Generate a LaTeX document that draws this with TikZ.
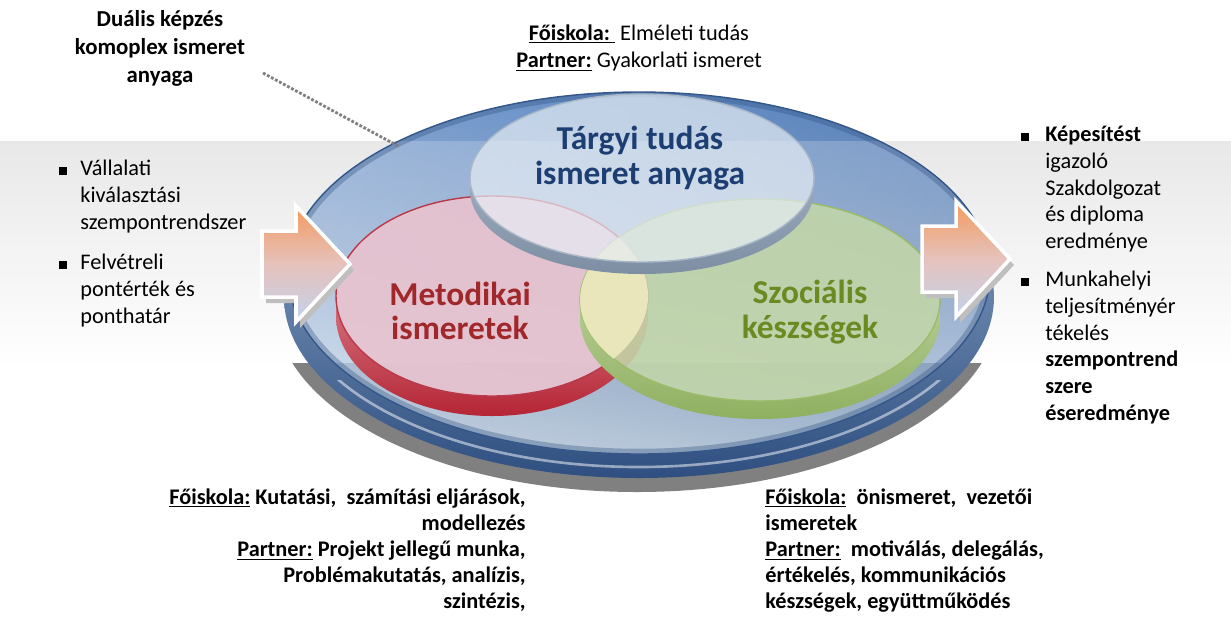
\documentclass[tikz,border=0pt]{standalone}
\usepackage{fontspec}
\setmainfont{Carlito}
\usetikzlibrary{positioning}

% colours of the plate
\definecolor{platetop}{HTML}{5A88C6}
\definecolor{platemid}{HTML}{8AA6CC}
\definecolor{platelow}{HTML}{D2E4F5}
\definecolor{plateside}{HTML}{2E4F80}
\definecolor{platesidetop}{HTML}{9DB5D3}
\definecolor{plateedge}{HTML}{34578A}
% colours of the three cushions
\definecolor{topface}{HTML}{E6EDF4}
\definecolor{topedge}{HTML}{A9B8C8}
\definecolor{topsideA}{HTML}{B9C5D2}
\definecolor{topsideB}{HTML}{7D8EA3}
\definecolor{redface}{HTML}{E9C3CF}
\definecolor{rededge}{HTML}{B8394A}
\definecolor{redsideA}{HTML}{F0B8C0}
\definecolor{redsideB}{HTML}{B52535}
\definecolor{greenface}{HTML}{C2D6A8}
\definecolor{greenedge}{HTML}{9BBB6A}
\definecolor{greensideA}{HTML}{D4E4BE}
\definecolor{greensideB}{HTML}{8FB060}
\definecolor{overlap}{HTML}{EFE9BE}
% text and arrows
\definecolor{navytext}{HTML}{1D3E73}
\definecolor{redtext}{HTML}{A0282B}
\definecolor{greentext}{HTML}{6A8A22}
\definecolor{arrowtop}{HTML}{F39A5E}
\definecolor{arrowmid}{HTML}{E6C2BC}
\definecolor{arrowlow}{HTML}{C2D2EC}

% cushion: centre x, centre y, x radius, y radius, depth, side style, face style
\newcommand{\cushion}[7]{%
  \begin{scope}
    \clip (0,#2) rectangle (1231,630);
    \path[#6, even odd rule] (#1,#2+#5) ellipse [x radius=#3, y radius=#4]
      (#1,#2) ellipse [x radius=#3, y radius=#4];
  \end{scope}
  \path[#7] (#1,#2) ellipse [x radius=#3, y radius=#4];
}

\begin{document}
\begin{tikzpicture}[x=0.02cm, y=-0.02cm,
    every node/.style={inner sep=0pt},
    plain/.style={font=\fontsize{12.7}{15.2}\selectfont},
    heavy/.style={font=\fontsize{12.7}{14.9}\selectfont\bfseries},
    title/.style={font=\fontsize{19}{19.8}\selectfont\bfseries, align=center},
    sqbullet/.style={fill=black, minimum size=4pt},
    arrowpath/.style={insert path={(0,-33) -- (34,-33) -- (34,-58) -- (88,0)
      -- (34,58) -- (34,33) -- (0,33) -- cycle}},
    arrowfill/.style={top color=arrowtop, bottom color=arrowlow,
      middle color=arrowmid, draw=white, line width=2pt}]

  % Page and grey band
  \useasboundingbox (0,0) rectangle (1231,630);
  \fill[white] (0,0) rectangle (1231,630);
  \shade[top color=black!9, bottom color=white] (0,141) rectangle (1231,368);

  % Shadow under the plate
  \begin{scope}
    \clip (0,363) rectangle (1231,630);
    \fill[black!50] (637,306) ellipse [x radius=362, y radius=186];
  \end{scope}

  % The plate: side, face, band and rim
  \shade[top color=platesidetop, bottom color=plateside]
    (639,297) ellipse [x radius=355, y radius=181];
  \shade[top color=platetop, bottom color=platelow, middle color=platemid]
    (639,273) ellipse [x radius=351, y radius=181];
  \begin{scope}
    \clip (639,273) ellipse [x radius=351, y radius=181];
    \shade[left color=white, right color=plateside, opacity=.2] (280,80) rectangle (1000,470);
    \fill[white, opacity=.2] (0,141) rectangle (1231,363);
    \fill[black, opacity=.07] (0,363) rectangle (1231,630);
    \draw[plateside, line width=6pt, opacity=.35]
      (639,273) ellipse [x radius=351, y radius=181];
  \end{scope}
  \draw[plateedge, line width=.8pt] (639,273) ellipse [x radius=351, y radius=181];
  \begin{scope}
    \clip (0,380) rectangle (1231,630);
    \draw[white, opacity=.5, line width=1.5pt] (639,288) ellipse [x radius=350, y radius=179];
  \end{scope}

  % Red and green cushions
  \cushion{492}{296}{156}{100}{20}{top color=redsideA, bottom color=redsideB}
    {fill=redface, fill opacity=.9, draw=rededge, line width=.8pt}
  \cushion{760}{300}{180}{101}{18}{top color=greensideA, bottom color=greensideB}
    {fill=greenface, fill opacity=.88, draw=greenedge, line width=.8pt}
  \begin{scope}
    \clip (492,296) ellipse [x radius=156, y radius=100];
    \fill[overlap, opacity=.9] (760,300) ellipse [x radius=180, y radius=101];
  \end{scope}

  % Top cushion
  \cushion{642}{178}{172}{84}{12}{top color=topsideA, bottom color=topsideB}
    {fill=topface, fill opacity=.7, draw=topedge, line width=.8pt}

  % Cushion titles
  \node[title, text=navytext] (targy) at (640,158) {Tárgyi tudás\\ismeret anyaga};
  \node[title, text=redtext] (metod) at (460,311) {Metodikai\\ismeretek};
  \node[title, text=greentext] (szoc) at (810,312) {Szociális\\készségek};

  % Arrows in and out, with their shadows
  \fill[black!25, shift={(266,270)}, arrowpath];
  \path[arrowfill, shift={(262,264)}, arrowpath];
  \fill[black!25, shift={(926,265)}, arrowpath];
  \path[arrowfill, shift={(922,259)}, arrowpath];

  % Label of the plate
  \node[font=\fontsize{13}{15.9}\selectfont\bfseries, align=center, anchor=north]
    (dual) at (160,10) {Duális képzés\\komoplex ismeret\\anyaga};
  \coordinate (dualend) at (263,73);
  \coordinate (platepin) at (398,146);
  \draw[black!50, line width=1.6pt, densely dotted] (dualend) -- (platepin);

  % Top text
  \node[font=\fontsize{12.7}{15.9}\selectfont, align=center, anchor=north] (fotop) at (639,24)
    {\underline{\textbf{Főiskola:}\ }\ Elméleti tudás\\\underline{\textbf{Partner:}} Gyakorlati ismeret};

  % Input list
  \node[sqbullet] (lb1) at (63,171) {};
  \node[plain, align=left, anchor=north west] (litem1) at (80,160)
    {Vállalati\\kiválasztási\\szempontrendszer};
  \node[sqbullet] (lb2) at (63,265) {};
  \node[plain, align=left, anchor=north west] (litem2) at (80,254)
    {Felvétreli\\pontérték és\\ponthatár};

  % Output list
  \node[sqbullet] (rb1) at (1025,137) {};
  \node[plain, align=left, anchor=north west] (ritem1) at (1045,126)
    {\textbf{Képesítést}\\igazoló\\Szakdolgozat\\és diploma\\eredménye};
  \node[sqbullet] (rb2) at (1025,282) {};
  \node[plain, align=left, anchor=north west] (ritem2) at (1045,271)
    {Munkahelyi\\teljesítményér\\tékelés\\\textbf{szempontrend}\\\textbf{szere}\\\textbf{éseredménye}};

  % Bottom texts
  \node[heavy, align=right, anchor=north east] (method) at (526,488)
    {\underline{Főiskola:} Kutatási,\ \ számítási eljárások,\\modellezés\\
     \underline{Partner:} Projekt jellegű munka,\\Problémakutatás, analízis,\\szintézis,};
  \node[heavy, align=left, anchor=north west] (social) at (765,488)
    {\underline{Főiskola:}\ \ önismeret,\ \ vezetői\\ismeretek\\
     \underline{Partner:}\ \ motiválás, delegálás,\\értékelés, kommunikációs\\készségek, együttműködés};
\end{tikzpicture}
\end{document}
